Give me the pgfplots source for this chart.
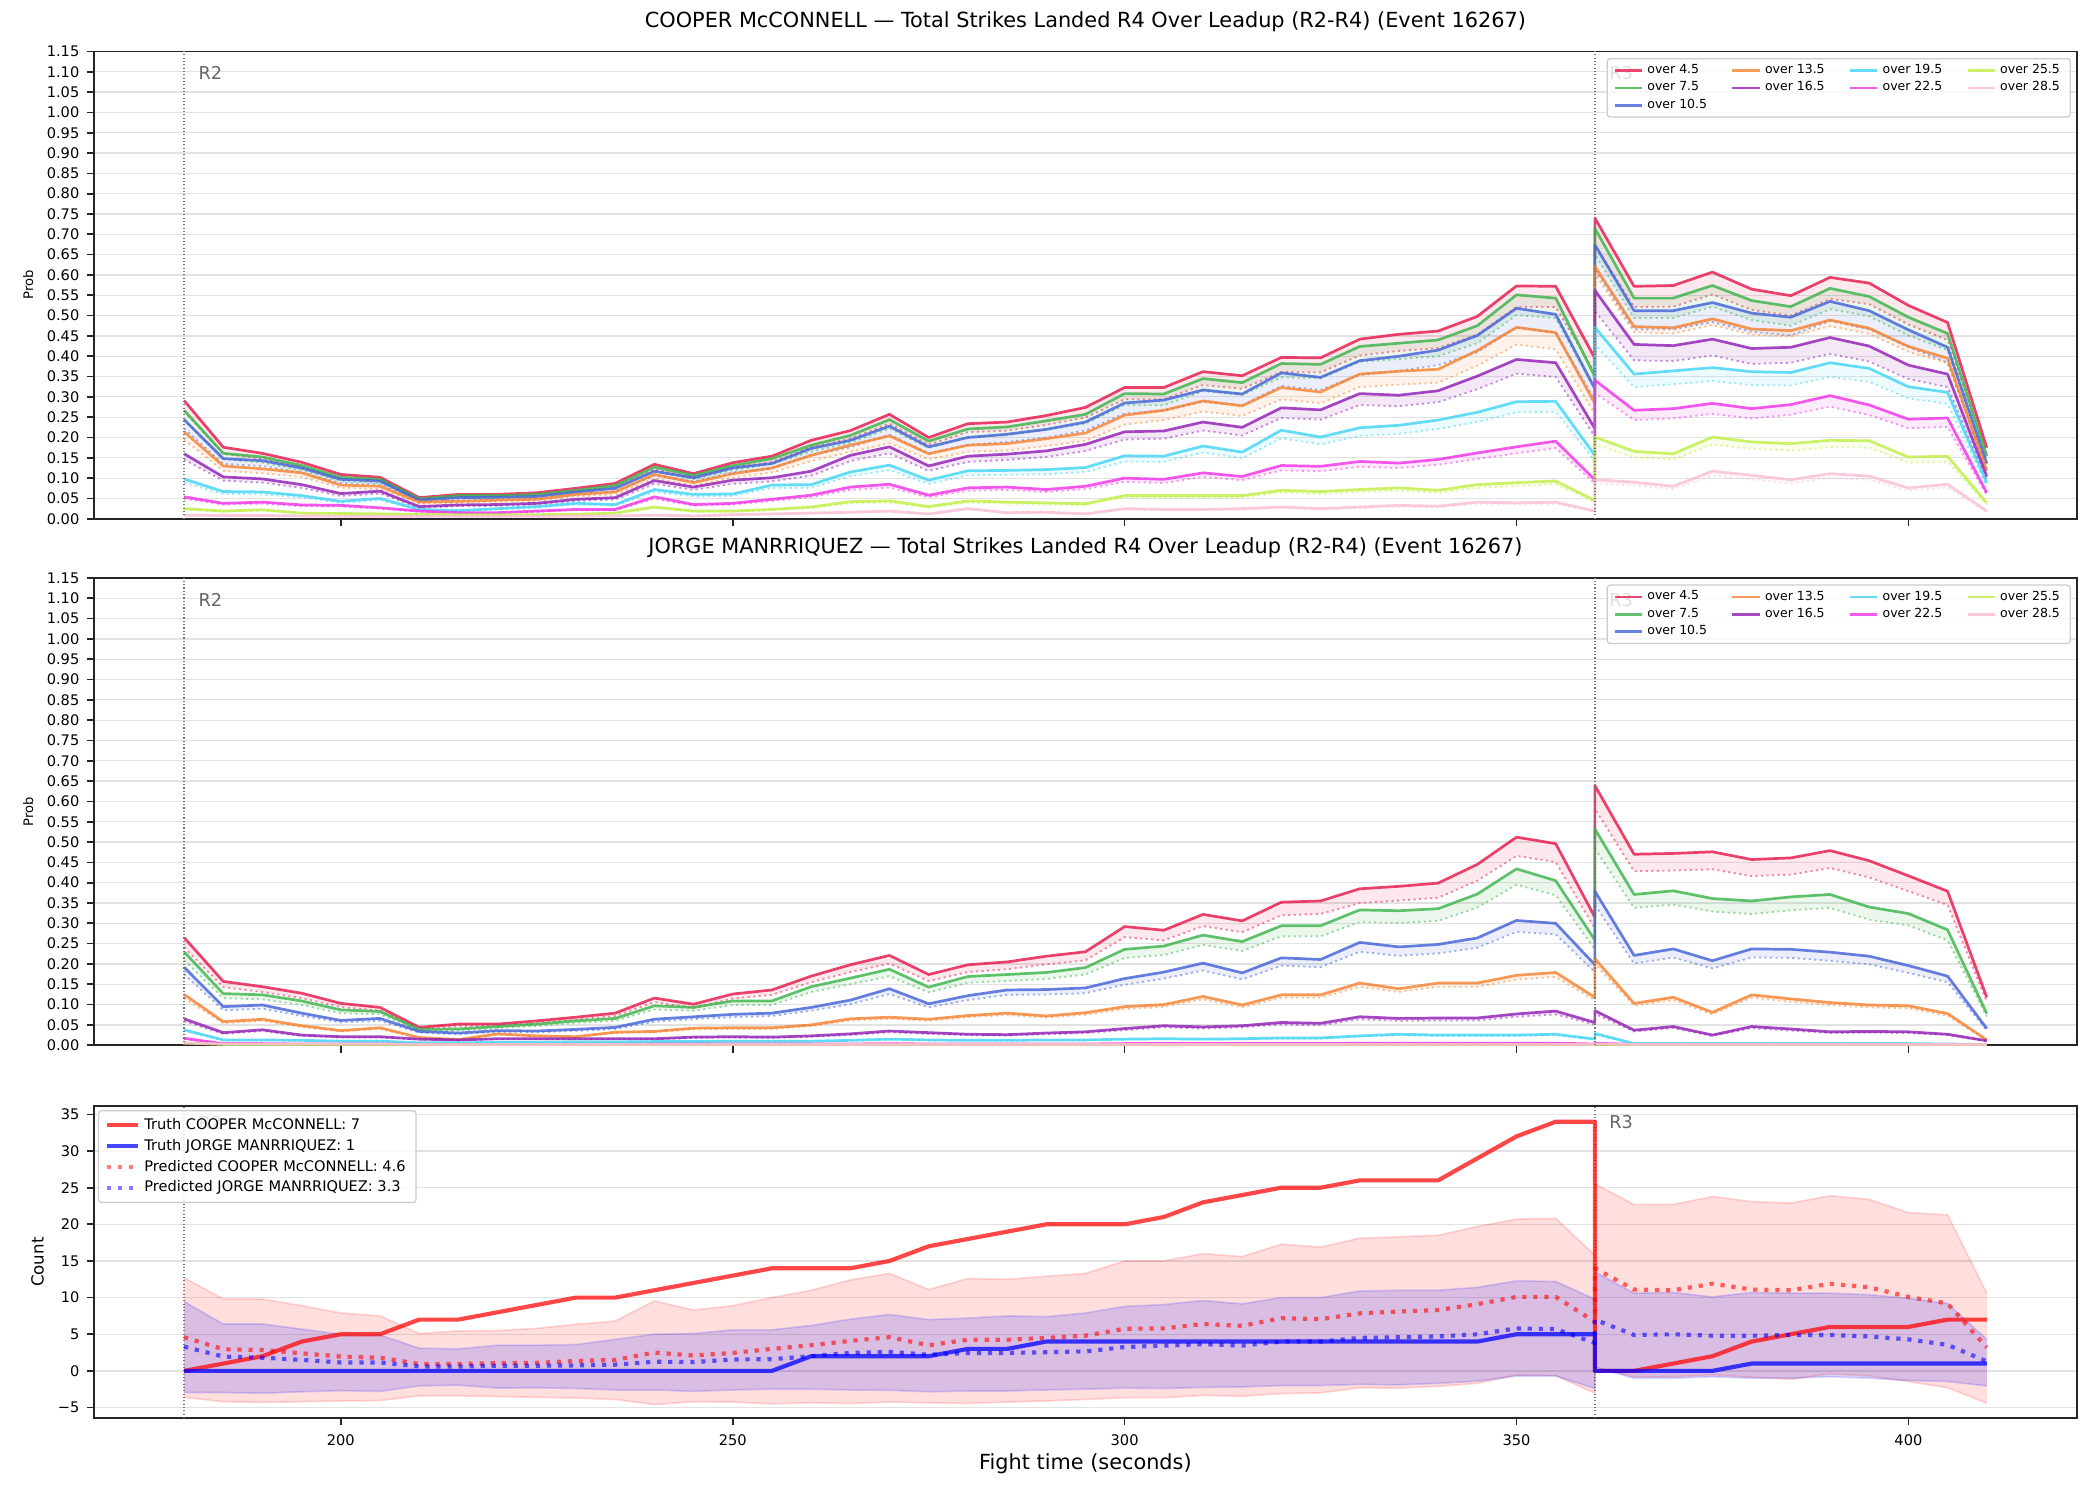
\documentclass[border=0pt]{standalone}
\usepackage{fontspec}
\setmainfont{DejaVu Sans}
\usepackage{pgfplots}
\pgfplotsset{compat=1.18}
\usepackage{pgfplotstable}
\usepgfplotslibrary{fillbetween}

\definecolor{c1}{HTML}{E6194B}
\definecolor{c2}{HTML}{3CB44B}
\definecolor{c3}{HTML}{4363D8}
\definecolor{c4}{HTML}{F58231}
\definecolor{c5}{HTML}{911EB4}
\definecolor{c6}{HTML}{42D4F4}
\definecolor{c7}{HTML}{F032E6}
\definecolor{c8}{HTML}{BFEF45}
\definecolor{c9}{HTML}{FABED4}
\definecolor{gridc}{HTML}{E2E2E2}
\definecolor{tickc}{HTML}{262626}

% s1..s9: "over" probabilities (solid), d1..d9: model reference (dotted)
\pgfplotstableread{
t s1 s2 s3 s4 s5 s6 s7 s8 s9 d1 d2 d3 d4 d5 d6 d7 d8 d9
180 0.291 0.267 0.244 0.214 0.160 0.098 0.054 0.025 0.009 0.265 0.243 0.222 0.195 0.146 0.089 0.049 0.023 0.008
185 0.176 0.161 0.148 0.130 0.103 0.067 0.038 0.019 0.008 0.160 0.147 0.135 0.118 0.094 0.061 0.035 0.017 0.007
190 0.161 0.152 0.143 0.123 0.098 0.066 0.041 0.022 0.008 0.147 0.138 0.130 0.112 0.089 0.060 0.037 0.020 0.007
195 0.139 0.131 0.125 0.113 0.084 0.057 0.034 0.014 0.007 0.126 0.119 0.114 0.103 0.076 0.052 0.031 0.013 0.006
200 0.109 0.102 0.097 0.083 0.062 0.043 0.033 0.013 0.006 0.099 0.093 0.088 0.076 0.056 0.039 0.030 0.012 0.005
205 0.102 0.097 0.093 0.080 0.068 0.050 0.027 0.012 0.006 0.093 0.088 0.085 0.073 0.062 0.046 0.025 0.011 0.005
210 0.052 0.049 0.046 0.041 0.030 0.023 0.019 0.011 0.006 0.047 0.045 0.042 0.037 0.027 0.021 0.017 0.010 0.005
215 0.060 0.057 0.052 0.043 0.034 0.020 0.015 0.010 0.006 0.055 0.052 0.047 0.039 0.031 0.018 0.014 0.009 0.005
220 0.060 0.057 0.053 0.046 0.035 0.025 0.015 0.010 0.006 0.055 0.052 0.048 0.042 0.032 0.023 0.014 0.009 0.005
225 0.064 0.060 0.055 0.048 0.038 0.030 0.019 0.010 0.006 0.058 0.055 0.050 0.044 0.035 0.027 0.017 0.009 0.005
230 0.075 0.070 0.066 0.060 0.048 0.038 0.023 0.011 0.007 0.068 0.064 0.060 0.055 0.044 0.035 0.021 0.010 0.006
235 0.087 0.082 0.075 0.066 0.052 0.035 0.023 0.014 0.007 0.079 0.075 0.068 0.060 0.047 0.032 0.021 0.013 0.006
240 0.134 0.127 0.117 0.109 0.094 0.072 0.054 0.029 0.009 0.122 0.116 0.106 0.099 0.086 0.066 0.049 0.026 0.008
245 0.111 0.107 0.101 0.089 0.078 0.060 0.035 0.019 0.007 0.101 0.097 0.092 0.081 0.071 0.055 0.032 0.017 0.006
250 0.138 0.131 0.125 0.111 0.095 0.061 0.038 0.019 0.010 0.126 0.119 0.114 0.101 0.086 0.056 0.035 0.017 0.009
255 0.154 0.148 0.136 0.125 0.101 0.083 0.048 0.023 0.012 0.140 0.135 0.124 0.114 0.092 0.076 0.044 0.021 0.011
260 0.193 0.181 0.173 0.156 0.117 0.084 0.058 0.029 0.014 0.176 0.165 0.157 0.142 0.106 0.076 0.053 0.026 0.013
265 0.217 0.205 0.193 0.181 0.156 0.115 0.078 0.042 0.016 0.197 0.187 0.176 0.165 0.142 0.105 0.071 0.038 0.015
270 0.257 0.244 0.228 0.204 0.177 0.132 0.085 0.044 0.019 0.234 0.222 0.207 0.186 0.161 0.120 0.077 0.040 0.017
275 0.200 0.191 0.177 0.160 0.130 0.095 0.058 0.030 0.012 0.182 0.174 0.161 0.146 0.118 0.086 0.053 0.027 0.011
280 0.234 0.221 0.200 0.181 0.154 0.118 0.076 0.044 0.025 0.213 0.201 0.182 0.165 0.140 0.107 0.069 0.040 0.023
285 0.238 0.226 0.208 0.185 0.159 0.119 0.078 0.041 0.015 0.217 0.206 0.189 0.168 0.145 0.108 0.071 0.037 0.014
290 0.254 0.241 0.220 0.197 0.167 0.121 0.072 0.039 0.016 0.231 0.219 0.200 0.179 0.152 0.110 0.066 0.035 0.015
295 0.274 0.257 0.238 0.211 0.183 0.126 0.080 0.037 0.012 0.249 0.234 0.217 0.192 0.167 0.115 0.073 0.034 0.011
300 0.323 0.308 0.285 0.255 0.214 0.155 0.100 0.057 0.025 0.294 0.280 0.259 0.232 0.195 0.141 0.091 0.052 0.023
305 0.323 0.307 0.292 0.267 0.216 0.154 0.097 0.057 0.023 0.294 0.279 0.266 0.243 0.197 0.140 0.088 0.052 0.021
310 0.362 0.345 0.317 0.290 0.238 0.179 0.113 0.057 0.023 0.329 0.314 0.288 0.264 0.217 0.163 0.103 0.052 0.021
315 0.352 0.335 0.307 0.278 0.225 0.164 0.104 0.057 0.025 0.320 0.305 0.279 0.253 0.205 0.149 0.095 0.052 0.023
320 0.397 0.382 0.359 0.323 0.273 0.218 0.131 0.070 0.029 0.361 0.348 0.327 0.294 0.248 0.198 0.119 0.064 0.026
325 0.396 0.380 0.348 0.312 0.268 0.201 0.129 0.067 0.025 0.360 0.346 0.317 0.284 0.244 0.183 0.117 0.061 0.023
330 0.442 0.424 0.389 0.356 0.308 0.224 0.141 0.072 0.029 0.402 0.386 0.354 0.324 0.280 0.204 0.128 0.066 0.026
335 0.454 0.432 0.400 0.363 0.304 0.230 0.137 0.076 0.033 0.413 0.393 0.364 0.330 0.277 0.209 0.125 0.069 0.030
340 0.462 0.440 0.415 0.368 0.315 0.243 0.146 0.070 0.031 0.420 0.400 0.378 0.335 0.287 0.221 0.133 0.064 0.028
345 0.498 0.475 0.451 0.414 0.351 0.262 0.162 0.084 0.041 0.453 0.432 0.410 0.377 0.319 0.238 0.147 0.076 0.037
350 0.573 0.551 0.518 0.471 0.392 0.288 0.177 0.089 0.039 0.521 0.501 0.471 0.429 0.357 0.262 0.161 0.081 0.035
355 0.572 0.543 0.503 0.458 0.384 0.289 0.191 0.093 0.041 0.521 0.494 0.458 0.417 0.349 0.263 0.174 0.085 0.037
360 0.395 0.350 0.320 0.284 0.222 0.156 0.096 0.045 0.019 0.359 0.319 0.291 0.258 0.202 0.142 0.087 0.041 0.017
360 0.740 0.715 0.674 0.621 0.562 0.471 0.341 0.201 0.096 0.673 0.651 0.613 0.602 0.511 0.429 0.310 0.183 0.087
365 0.572 0.543 0.512 0.473 0.429 0.356 0.267 0.166 0.090 0.521 0.494 0.466 0.459 0.390 0.324 0.243 0.151 0.082
370 0.574 0.543 0.512 0.470 0.426 0.364 0.271 0.160 0.080 0.522 0.494 0.466 0.456 0.388 0.331 0.247 0.146 0.073
375 0.607 0.574 0.532 0.492 0.442 0.372 0.284 0.201 0.117 0.552 0.522 0.484 0.477 0.402 0.339 0.258 0.183 0.106
380 0.565 0.537 0.506 0.467 0.419 0.362 0.271 0.189 0.107 0.514 0.489 0.460 0.453 0.381 0.329 0.247 0.172 0.097
385 0.549 0.522 0.496 0.463 0.422 0.360 0.281 0.185 0.096 0.500 0.475 0.451 0.449 0.384 0.328 0.256 0.168 0.087
390 0.594 0.567 0.535 0.489 0.446 0.384 0.303 0.193 0.111 0.541 0.516 0.487 0.474 0.406 0.349 0.276 0.176 0.101
395 0.580 0.547 0.512 0.469 0.425 0.370 0.280 0.192 0.105 0.528 0.498 0.466 0.455 0.387 0.337 0.255 0.175 0.096
400 0.525 0.496 0.465 0.424 0.378 0.325 0.245 0.152 0.076 0.478 0.451 0.423 0.411 0.344 0.296 0.223 0.138 0.069
405 0.483 0.456 0.422 0.395 0.356 0.311 0.248 0.154 0.085 0.440 0.415 0.384 0.383 0.324 0.283 0.226 0.140 0.077
410 0.175 0.154 0.136 0.118 0.104 0.088 0.064 0.039 0.019 0.159 0.140 0.124 0.114 0.095 0.080 0.058 0.035 0.017
}\cooperdata

\pgfplotstableread{
t s1 s2 s3 s4 s5 s6 s7 s8 s9 d1 d2 d3 d4 d5 d6 d7 d8 d9
180 0.265 0.230 0.192 0.125 0.065 0.038 0.017 0.006 0.005 0.241 0.209 0.175 0.116 0.059 0.035 0.015 0.005 0.004
185 0.157 0.127 0.095 0.058 0.031 0.013 0.004 0.002 0.003 0.143 0.116 0.086 0.054 0.028 0.012 0.004 0.002 0.003
190 0.144 0.124 0.099 0.064 0.038 0.013 0.004 0.002 0.003 0.131 0.113 0.090 0.060 0.035 0.012 0.004 0.002 0.003
195 0.128 0.109 0.079 0.048 0.025 0.012 0.003 0.002 0.003 0.116 0.099 0.072 0.045 0.023 0.011 0.003 0.002 0.003
200 0.103 0.087 0.061 0.036 0.021 0.010 0.003 0.002 0.003 0.094 0.079 0.056 0.034 0.019 0.009 0.003 0.002 0.003
205 0.093 0.083 0.066 0.043 0.021 0.010 0.003 0.002 0.003 0.085 0.076 0.060 0.040 0.019 0.009 0.003 0.002 0.003
210 0.044 0.039 0.034 0.019 0.015 0.006 0.002 0.001 0.002 0.040 0.035 0.031 0.018 0.014 0.005 0.002 0.001 0.002
215 0.052 0.040 0.030 0.014 0.013 0.006 0.002 0.001 0.002 0.047 0.036 0.027 0.013 0.012 0.005 0.002 0.001 0.002
220 0.052 0.046 0.036 0.028 0.016 0.007 0.002 0.001 0.002 0.047 0.042 0.033 0.026 0.015 0.006 0.002 0.001 0.002
225 0.060 0.052 0.035 0.023 0.016 0.007 0.002 0.001 0.002 0.055 0.047 0.032 0.022 0.015 0.006 0.002 0.001 0.002
230 0.069 0.060 0.039 0.021 0.016 0.008 0.002 0.001 0.002 0.063 0.055 0.035 0.020 0.015 0.007 0.002 0.001 0.002
235 0.079 0.066 0.044 0.032 0.016 0.008 0.002 0.001 0.002 0.072 0.060 0.040 0.030 0.015 0.007 0.002 0.001 0.002
240 0.116 0.097 0.064 0.034 0.016 0.009 0.003 0.001 0.002 0.106 0.088 0.058 0.032 0.015 0.008 0.003 0.001 0.002
245 0.101 0.093 0.070 0.042 0.020 0.009 0.003 0.001 0.002 0.092 0.085 0.064 0.039 0.018 0.008 0.003 0.001 0.002
250 0.126 0.109 0.076 0.043 0.021 0.010 0.003 0.001 0.002 0.115 0.099 0.069 0.040 0.019 0.009 0.003 0.001 0.002
255 0.136 0.109 0.079 0.043 0.020 0.010 0.003 0.001 0.002 0.124 0.099 0.072 0.040 0.018 0.009 0.003 0.001 0.002
260 0.170 0.144 0.093 0.050 0.023 0.010 0.003 0.001 0.002 0.155 0.131 0.085 0.047 0.021 0.009 0.003 0.001 0.002
265 0.198 0.165 0.111 0.065 0.028 0.012 0.003 0.001 0.002 0.180 0.150 0.101 0.061 0.025 0.011 0.003 0.001 0.002
270 0.221 0.187 0.139 0.069 0.035 0.015 0.004 0.001 0.002 0.201 0.170 0.126 0.065 0.032 0.014 0.004 0.001 0.002
275 0.174 0.143 0.102 0.064 0.031 0.013 0.003 0.001 0.002 0.158 0.130 0.093 0.060 0.028 0.012 0.003 0.001 0.002
280 0.198 0.169 0.122 0.073 0.027 0.012 0.003 0.001 0.002 0.180 0.154 0.111 0.069 0.025 0.011 0.003 0.001 0.002
285 0.205 0.174 0.136 0.079 0.026 0.012 0.003 0.001 0.002 0.187 0.158 0.124 0.074 0.024 0.011 0.003 0.001 0.002
290 0.219 0.179 0.137 0.072 0.030 0.013 0.003 0.001 0.002 0.199 0.163 0.125 0.068 0.027 0.012 0.003 0.001 0.002
295 0.230 0.191 0.141 0.080 0.033 0.013 0.003 0.001 0.002 0.209 0.174 0.128 0.075 0.030 0.012 0.003 0.001 0.002
300 0.292 0.236 0.164 0.095 0.041 0.015 0.004 0.001 0.002 0.266 0.215 0.149 0.089 0.037 0.014 0.004 0.001 0.002
305 0.283 0.244 0.180 0.100 0.048 0.016 0.004 0.001 0.002 0.258 0.222 0.164 0.094 0.044 0.015 0.004 0.001 0.002
310 0.322 0.271 0.202 0.120 0.045 0.015 0.004 0.001 0.002 0.293 0.247 0.184 0.113 0.041 0.014 0.004 0.001 0.002
315 0.306 0.255 0.178 0.099 0.048 0.016 0.004 0.001 0.002 0.278 0.232 0.162 0.093 0.044 0.015 0.004 0.001 0.002
320 0.352 0.294 0.215 0.124 0.056 0.018 0.004 0.001 0.002 0.320 0.268 0.196 0.117 0.051 0.016 0.004 0.001 0.002
325 0.355 0.294 0.211 0.124 0.054 0.018 0.004 0.001 0.002 0.323 0.268 0.192 0.117 0.049 0.016 0.004 0.001 0.002
330 0.385 0.333 0.253 0.153 0.070 0.023 0.005 0.001 0.002 0.350 0.303 0.230 0.144 0.064 0.021 0.005 0.001 0.002
335 0.391 0.331 0.242 0.139 0.066 0.027 0.005 0.001 0.002 0.356 0.301 0.220 0.131 0.060 0.025 0.005 0.001 0.002
340 0.399 0.336 0.248 0.153 0.067 0.025 0.005 0.001 0.002 0.363 0.306 0.226 0.144 0.061 0.023 0.005 0.001 0.002
345 0.445 0.372 0.264 0.153 0.067 0.025 0.005 0.001 0.002 0.405 0.339 0.240 0.144 0.061 0.023 0.005 0.001 0.002
350 0.512 0.434 0.307 0.172 0.077 0.025 0.005 0.001 0.002 0.466 0.395 0.279 0.162 0.070 0.023 0.005 0.001 0.002
355 0.496 0.405 0.300 0.179 0.084 0.027 0.005 0.001 0.002 0.451 0.369 0.273 0.168 0.076 0.025 0.005 0.001 0.002
360 0.315 0.259 0.198 0.118 0.056 0.015 0.003 0.001 0.002 0.287 0.236 0.180 0.111 0.051 0.014 0.003 0.001 0.002
360 0.639 0.532 0.379 0.213 0.085 0.029 0.005 0.002 0.003 0.582 0.484 0.345 0.200 0.077 0.026 0.005 0.002 0.003
365 0.470 0.371 0.221 0.103 0.037 0.004 0.002 0.001 0.002 0.428 0.338 0.201 0.097 0.034 0.004 0.002 0.001 0.002
370 0.472 0.380 0.237 0.118 0.046 0.004 0.002 0.001 0.002 0.430 0.346 0.216 0.111 0.042 0.004 0.002 0.001 0.002
375 0.476 0.361 0.208 0.081 0.025 0.004 0.002 0.001 0.002 0.433 0.329 0.189 0.076 0.023 0.004 0.002 0.001 0.002
380 0.457 0.355 0.237 0.124 0.046 0.004 0.002 0.001 0.002 0.416 0.323 0.216 0.117 0.042 0.004 0.002 0.001 0.002
385 0.461 0.365 0.236 0.114 0.040 0.004 0.002 0.001 0.002 0.420 0.332 0.215 0.107 0.036 0.004 0.002 0.001 0.002
390 0.479 0.371 0.229 0.105 0.033 0.004 0.002 0.001 0.002 0.436 0.338 0.208 0.099 0.030 0.004 0.002 0.001 0.002
395 0.454 0.340 0.219 0.099 0.034 0.004 0.002 0.001 0.002 0.413 0.309 0.199 0.093 0.031 0.004 0.002 0.001 0.002
400 0.417 0.324 0.196 0.097 0.033 0.004 0.002 0.001 0.002 0.379 0.295 0.178 0.091 0.030 0.004 0.002 0.001 0.002
405 0.379 0.284 0.170 0.078 0.027 0.003 0.002 0.001 0.002 0.345 0.258 0.155 0.073 0.025 0.003 0.002 0.001 0.002
410 0.118 0.078 0.041 0.013 0.011 0.002 0.001 0.001 0.002 0.107 0.071 0.037 0.012 0.010 0.002 0.001 0.001 0.002
}\jorgedata

% tc/tj: true counts, pc/pj: predicted counts, cu/cl and ju/jl: prediction bands
\pgfplotstableread{
t tc tj pc pj cu cl ju jl
180 0 0 4.6 3.3 12.7 -3.6 9.45 -2.95
185 1 0 2.95 1.95 9.8 -4.2 6.4 -2.95
190 2 0 2.85 1.8 9.8 -4.3 6.4 -3.05
195 4 0 2.4 1.5 8.9 -4.2 5.7 -2.85
200 5 0 1.95 1.15 7.9 -4.1 5.0 -2.7
205 5 0 1.8 1.15 7.5 -4.05 4.9 -2.8
210 7 0 0.95 0.6 5.1 -3.4 3.1 -2.05
215 7 0 0.95 0.6 5.45 -3.4 3.0 -1.95
220 8 0 1.05 0.7 5.5 -3.5 3.5 -2.35
225 9 0 1.1 0.7 5.8 -3.6 3.5 -2.3
230 10 0 1.35 0.75 6.35 -3.7 3.6 -2.4
235 10 0 1.5 0.85 6.8 -3.9 4.3 -2.6
240 11 0 2.5 1.25 9.55 -4.6 5.0 -2.6
245 12 0 2.1 1.2 8.3 -4.2 5.1 -2.8
250 13 0 2.45 1.55 8.9 -4.25 5.6 -2.6
255 14 0 3.0 1.6 10.0 -4.5 5.6 -2.5
260 14 2 3.5 2.0 11.0 -4.35 6.2 -2.5
265 14 2 4.1 2.45 12.4 -4.45 7.05 -2.6
270 15 2 4.6 2.6 13.3 -4.25 7.7 -2.65
275 17 2 3.5 2.2 11.1 -4.35 7.0 -2.85
280 18 3 4.25 2.45 12.6 -4.45 7.2 -2.75
285 19 3 4.25 2.45 12.5 -4.25 7.5 -2.75
290 20 4 4.5 2.55 12.9 -4.1 7.4 -2.6
295 20 4 4.8 2.65 13.3 -3.9 7.9 -2.5
300 20 4 5.75 3.25 15.0 -3.65 8.8 -2.35
305 21 4 5.8 3.45 15.0 -3.65 9.05 -2.4
310 23 4 6.4 3.65 16.0 -3.35 9.6 -2.25
315 24 4 6.15 3.45 15.6 -3.45 9.15 -2.2
320 25 4 7.2 4.0 17.3 -3.1 10.0 -2.0
325 25 4 7.05 4.0 16.9 -3.0 10.0 -2.0
330 26 4 7.85 4.5 18.1 -2.3 10.9 -1.85
335 26 4 8.1 4.6 18.3 -2.35 11.0 -1.9
340 26 4 8.3 4.7 18.5 -2.1 11.0 -1.7
345 29 4 9.1 5.0 19.7 -1.7 11.4 -1.4
350 32 5 10.1 5.8 20.7 -0.55 12.3 -0.7
355 34 5 10.1 5.7 20.8 -0.65 12.2 -0.7
360 34 5 6.7 3.8 15.8 -3.05 9.8 -2.4
360 0 0 14.0 7.0 25.5 0.5 13.5 0.5
365 0 0 11.1 4.9 22.7 -0.8 10.6 -1.0
370 1 0 11.0 5.0 22.7 -0.8 10.7 -1.0
375 2 0 11.9 4.8 23.8 -0.55 10.1 -0.8
380 4 1 11.1 4.8 23.1 -0.85 10.7 -1.0
385 5 1 11.0 4.9 22.9 -1.15 10.6 -1.0
390 6 1 11.9 4.9 23.9 -0.4 10.6 -0.8
395 6 1 11.4 4.7 23.4 -0.7 10.4 -1.0
400 6 1 10.1 4.3 21.6 -1.45 9.9 -1.3
405 7 1 9.2 3.55 21.3 -2.3 9.2 -1.45
410 7 1 3.2 1.3 10.6 -4.4 4.3 -2.05
}\countdata

\tikzset{
  roundlabel/.style={anchor=west, text=black!60, font=\fontsize{8.5}{9}\selectfont, inner sep=0pt},
}

\pgfplotsset{
  panel/.style={
    scale only axis, width=951.8pt, anchor=north west,
    xmin=168.5, xmax=421.5, xtick={200,250,300,350,400},
    tick pos=left, tick align=outside, major tick length=3.5pt,
    tick style={line width=0.8pt, tickc},
    axis line style={line width=0.8pt, tickc},
    ymajorgrids, major grid style={line width=0.6pt, gridc},
    ticklabel style={font=\fontsize{7}{8}\selectfont},
    /pgf/number format/assume math mode=true,
    title style={font=\fontsize{10}{12}\selectfont},
    line join=round,
  },
  probpanel/.style={
    panel, height=224.3pt, ymin=0, ymax=1.15,
    ytick={0,0.05,0.1,0.15,0.2,0.25,0.3,0.35,0.4,0.45,0.5,0.55,0.6,0.65,0.7,0.75,0.8,0.85,0.9,0.95,1,1.05,1.1,1.15},
    yticklabel style={/pgf/number format/.cd, fixed, fixed zerofill, precision=2},
    xticklabels={},
    ylabel={Prob},
    ylabel style={at={(axis description cs:-0.0332,0.5)}, anchor=center, font=\fontsize{6.3}{7}\selectfont},
    legend columns=4, legend cell align=left,
    legend style={at={(0.997,0.986)}, anchor=north east,
      font=\fontsize{6}{7}\selectfont, draw=black!20, line width=0.6pt,
      fill=white, fill opacity=0.8, text opacity=1, draw opacity=1,
      rounded corners=1.5pt, inner xsep=3pt, inner ysep=1.5pt,
      nodes={inner ysep=1.2pt},
      /tikz/every even column/.append style={column sep=9.5pt}},
    legend image code/.code={\draw[##1, line width=1.3pt] (0pt,0pt) -- (13pt,0pt);},
  },
  solidser/.style={line width=1.3pt, opacity=0.82},
  dotser/.style={line width=0.9pt, opacity=0.5, dash pattern=on 1pt off 1.65pt},
  roundmark/.style={black!55, line width=0.6pt, dash pattern=on 0.6pt off 1pt},
}

\begin{document}
\begin{tikzpicture}
\path (0,0) rectangle (1008pt,-720pt);

% ---- COOPER McCONNELL thresholds ----
\begin{axis}[probpanel, at={(45.1pt,-24.7pt)},
  title={COOPER McCONNELL — Total Strikes Landed R4 Over Leadup (R2-R4) (Event 16267)}]
\pgfplotsinvokeforeach{1,...,9}{
  \addplot[c#1, dotser, name path=d#1, forget plot] table[x=t, y=d#1] {\cooperdata};
  \addplot[c#1, solidser, name path=s#1, forget plot] table[x=t, y=s#1] {\cooperdata};
  \addplot[fill=c#1, fill opacity=0.1, draw=none, forget plot] fill between[of=s#1 and d#1];
}
\addplot[roundmark, forget plot] coordinates {(180,0) (180,1.15)};
\addplot[roundmark, forget plot] coordinates {(360,0) (360,1.15)};
\node[roundlabel] at (axis cs:181.8,1.096) {R2};
\node[roundlabel] at (axis cs:361.8,1.096) {R3};
\addlegendimage{c1, opacity=0.8}\addlegendentry{over 4.5}
\addlegendimage{c4, opacity=0.8}\addlegendentry{over 13.5}
\addlegendimage{c6, opacity=0.8}\addlegendentry{over 19.5}
\addlegendimage{c8, opacity=0.8}\addlegendentry{over 25.5}
\addlegendimage{c2, opacity=0.8}\addlegendentry{over 7.5}
\addlegendimage{c5, opacity=0.8}\addlegendentry{over 16.5}
\addlegendimage{c7, opacity=0.8}\addlegendentry{over 22.5}
\addlegendimage{c9, opacity=0.8}\addlegendentry{over 28.5}
\addlegendimage{c3, opacity=0.8}\addlegendentry{over 10.5}
\end{axis}

% ---- JORGE MANRRIQUEZ thresholds ----
\begin{axis}[probpanel, at={(45.1pt,-277.4pt)},
  title={JORGE MANRRIQUEZ — Total Strikes Landed R4 Over Leadup (R2-R4) (Event 16267)}]
\pgfplotsinvokeforeach{1,...,9}{
  \addplot[c#1, dotser, name path=d#1, forget plot] table[x=t, y=d#1] {\jorgedata};
  \addplot[c#1, solidser, name path=s#1, forget plot] table[x=t, y=s#1] {\jorgedata};
  \addplot[fill=c#1, fill opacity=0.1, draw=none, forget plot] fill between[of=s#1 and d#1];
}
\addplot[roundmark, forget plot] coordinates {(180,0) (180,1.15)};
\addplot[roundmark, forget plot] coordinates {(360,0) (360,1.15)};
\node[roundlabel] at (axis cs:181.8,1.096) {R2};
\node[roundlabel] at (axis cs:361.8,1.096) {R3};
\addlegendimage{c1, opacity=0.8}\addlegendentry{over 4.5}
\addlegendimage{c4, opacity=0.8}\addlegendentry{over 13.5}
\addlegendimage{c6, opacity=0.8}\addlegendentry{over 19.5}
\addlegendimage{c8, opacity=0.8}\addlegendentry{over 25.5}
\addlegendimage{c2, opacity=0.8}\addlegendentry{over 7.5}
\addlegendimage{c5, opacity=0.8}\addlegendentry{over 16.5}
\addlegendimage{c7, opacity=0.8}\addlegendentry{over 22.5}
\addlegendimage{c9, opacity=0.8}\addlegendentry{over 28.5}
\addlegendimage{c3, opacity=0.8}\addlegendentry{over 10.5}
\end{axis}

% ---- counts ----
\begin{axis}[panel, at={(45.1pt,-530.9pt)}, height=149.8pt,
  ymin=-6.45, ymax=36.14,
  ytick={-5,0,5,10,15,20,25,30,35},
  yticklabels={−5,0,5,10,15,20,25,30,35},
  xticklabel style={yshift=-1pt},
  xlabel={Fight time (seconds)},
  xlabel style={at={(axis description cs:0.5,-0.147)}, anchor=center, font=\fontsize{10}{12}\selectfont},
  ylabel={Count},
  ylabel style={at={(axis description cs:-0.0285,0.5)}, anchor=center, font=\fontsize{8}{9}\selectfont},
  legend cell align=left,
  legend style={at={(0.002,0.987)}, anchor=north west,
    font=\fontsize{7}{8}\selectfont, draw=black!20, line width=0.6pt,
    fill=white, fill opacity=0.8, text opacity=1, draw opacity=1,
    rounded corners=1.5pt, inner xsep=3pt, inner ysep=2pt,
    nodes={inner ysep=1.6pt}},
  legend image code/.code={\draw[#1] (0pt,0pt) -- (15pt,0pt);},
]
\addplot[red, draw opacity=0.15, line width=0.8pt, name path=cu, forget plot] table[x=t, y=cu] {\countdata};
\addplot[red, draw opacity=0.15, line width=0.8pt, name path=cl, forget plot] table[x=t, y=cl] {\countdata};
\addplot[fill=red, fill opacity=0.13, draw=none, forget plot] fill between[of=cu and cl];
\addplot[blue, draw opacity=0.15, line width=0.8pt, name path=ju, forget plot] table[x=t, y=ju] {\countdata};
\addplot[blue, draw opacity=0.15, line width=0.8pt, name path=jl, forget plot] table[x=t, y=jl] {\countdata};
\addplot[fill=blue, fill opacity=0.15, draw=none, forget plot] fill between[of=ju and jl];
\addplot[roundmark, forget plot] coordinates {(180,-6.45) (180,36.14)};
\addplot[roundmark, forget plot] coordinates {(360,-6.45) (360,36.14)};
\node[roundlabel] at (axis cs:181.8,33.9) {R2};
\node[roundlabel] at (axis cs:361.8,33.9) {R3};
\addplot[red, opacity=0.72, line width=2pt, forget plot] table[x=t, y=tc] {\countdata};
\addplot[blue, opacity=0.75, line width=2pt, forget plot] table[x=t, y=tj] {\countdata};
\addplot[red, opacity=0.6, line width=2pt, dash pattern=on 2pt off 3.3pt, forget plot] table[x=t, y=pc] {\countdata};
\addplot[blue, opacity=0.6, line width=2pt, dash pattern=on 2pt off 3.3pt, forget plot] table[x=t, y=pj] {\countdata};
\addlegendimage{red, opacity=0.72, line width=2pt}\addlegendentry{Truth COOPER McCONNELL: 7}
\addlegendimage{blue, opacity=0.72, line width=2pt}\addlegendentry{Truth JORGE MANRRIQUEZ: 1}
\addlegendimage{red, opacity=0.5, line width=2pt, dash pattern=on 2pt off 3.3pt}\addlegendentry{Predicted COOPER McCONNELL: 4.6}
\addlegendimage{blue, opacity=0.5, line width=2pt, dash pattern=on 2pt off 3.3pt}\addlegendentry{Predicted JORGE MANRRIQUEZ: 3.3}
\end{axis}
\end{tikzpicture}
\end{document}
